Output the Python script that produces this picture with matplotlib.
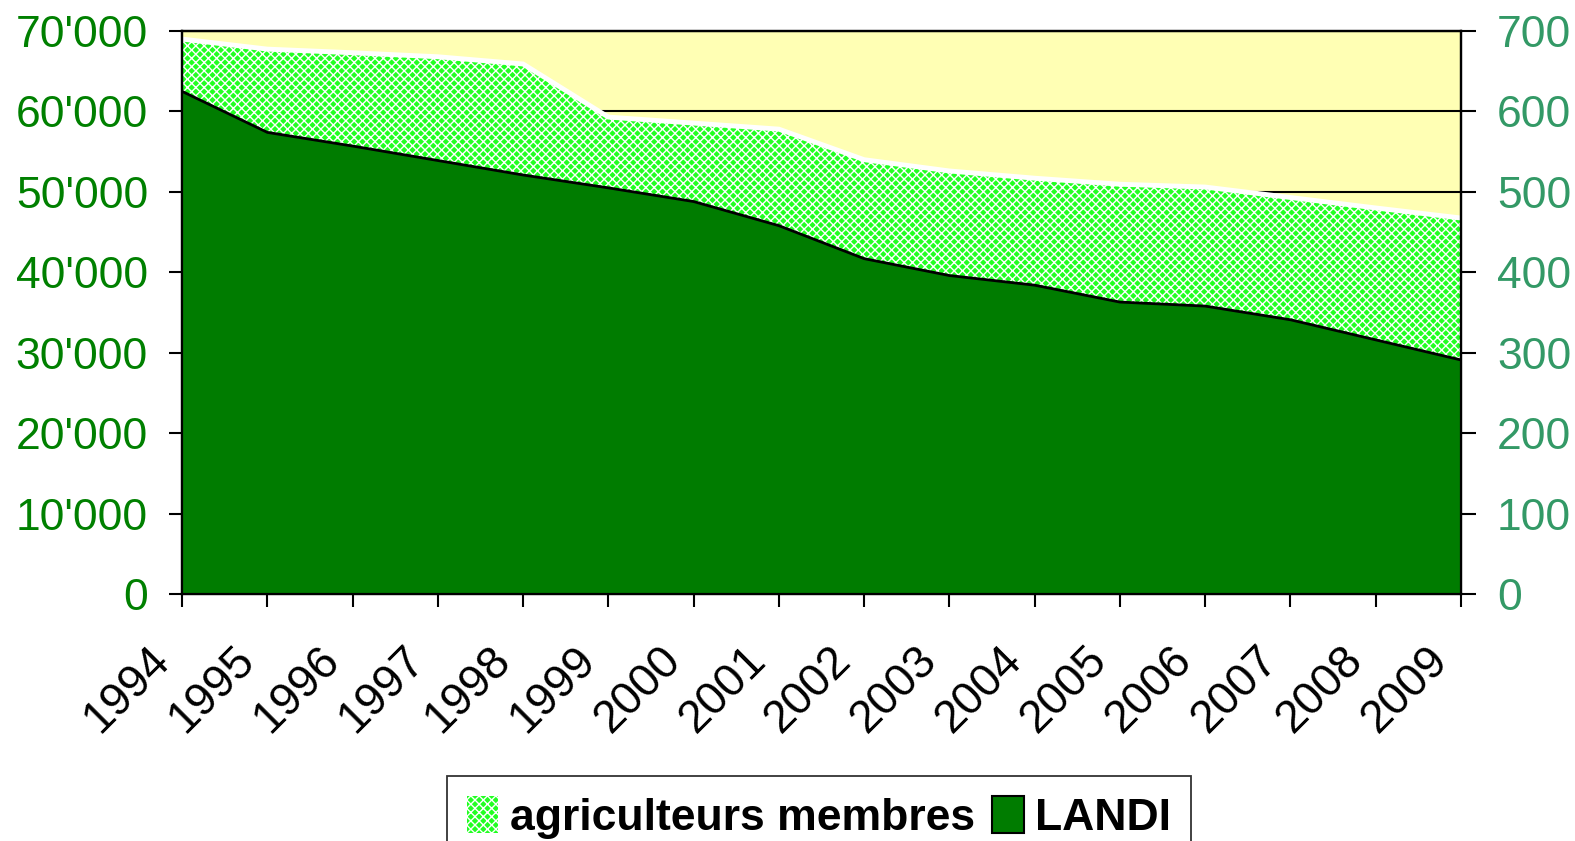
import numpy as np
import matplotlib
matplotlib.use("Agg")
import matplotlib.pyplot as plt
from matplotlib.ticker import FuncFormatter, MultipleLocator
from matplotlib.patches import Patch
import matplotlib.transforms as mtransforms

plt.rcParams['font.family'] = ['Liberation Sans', 'DejaVu Sans']
plt.rcParams['hatch.linewidth'] = 1.0

# values
years = [1994, 1995, 1996, 1997, 1998, 1999, 2000, 2001,
         2002, 2003, 2004, 2005, 2006, 2007, 2008, 2009]
agriculteurs = [69000, 67750, 67300, 66800, 65900, 59300, 58550, 57800,
                54000, 52600, 51700, 50950, 50600, 49300, 48000, 46750]
landi = [625, 574, 557, 539, 521, 505, 488, 458,
         417, 396, 384, 363, 358, 341, 316, 291]

fig = plt.figure(figsize=(15.75, 8.41), dpi=100)
ax1 = fig.add_axes([0.1156, 0.2937, 0.812, 0.6694])
ax2 = ax1.twinx()

yellow = '#ffffb4'
light = '#22ff22'
dark = '#007c00'

ax1.set_facecolor(yellow)
ax1.set_axisbelow(True)
ax1.grid(axis='y', color='black', lw=1.5)

# agriculteurs membres (left axis)
ax1.fill_between(years, agriculteurs, 0, facecolor=light, edgecolor='white',
                 hatch='xxxx', linewidth=0)
ax1.plot(years, agriculteurs, color='white', lw=3.5, solid_joinstyle='miter')

# LANDI (right axis)
ax2.patch.set_visible(False)
ax2.fill_between(years, landi, 0, facecolor=dark, linewidth=0)
ax2.plot(years, landi, color='black', lw=2)

ax1.set_xlim(1994, 2009)
ax1.set_ylim(0, 70000)
ax2.set_ylim(0, 700)
ax1.set_xticks(years)
ax1.set_xticklabels([str(y) for y in years])
ax1.yaxis.set_major_locator(MultipleLocator(10000))
ax2.yaxis.set_major_locator(MultipleLocator(100))
ax1.yaxis.set_major_formatter(FuncFormatter(lambda v, p: '{:,.0f}'.format(v).replace(',', "'")))

for a in (ax1, ax2):
    for s in a.spines.values():
        s.set_linewidth(1.6)
        s.set_color('black')

ax1.tick_params(axis='y', direction='out', length=9.5, width=1.5, pad=15,
                labelsize=32, labelcolor='#008000')
ax2.tick_params(axis='y', direction='out', length=11, width=1.5, pad=15,
                labelsize=32, labelcolor='#339966')
ax1.tick_params(axis='x', direction='out', length=9.5, width=1.5, pad=22,
                labelsize=33)

shift = mtransforms.ScaledTranslation(-0.04, 0, fig.dpi_scale_trans)
for lab in ax1.get_xticklabels():
    lab.set_rotation(45)
    lab.set_ha('right')
    lab.set_va('top')
    lab.set_transform(lab.get_transform() + shift)

handles = [Patch(facecolor=light, edgecolor='white', hatch='xxxx', linewidth=0,
                 label='agriculteurs membres'),
           Patch(facecolor=dark, edgecolor='black', linewidth=1.5, label='LANDI')]
leg = fig.legend(handles=handles, loc='upper center', bbox_to_anchor=(0.52, 0.0767),
                 ncol=2, frameon=True, fancybox=False, shadow=False,
                 prop={'weight': 'bold', 'size': 32},
                 handlelength=0.7, handleheight=0.9, handletextpad=0.25,
                 columnspacing=0.4, borderpad=0.45, borderaxespad=0)
leg.get_frame().set_edgecolor('black')
leg.get_frame().set_linewidth(1.3)

fig.savefig('out.png', dpi=100)
